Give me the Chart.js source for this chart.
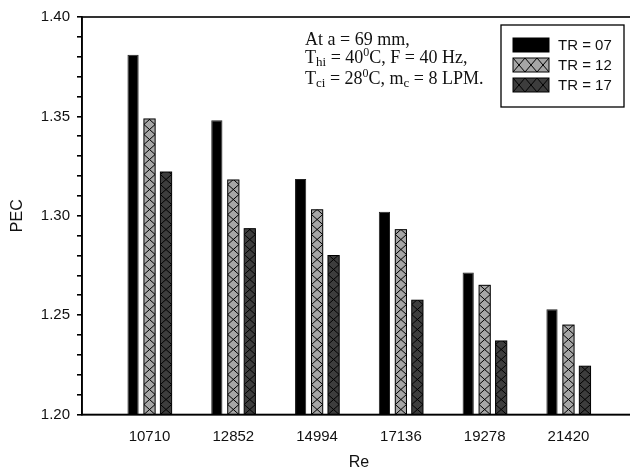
<!DOCTYPE html>
<html>
<head>
<meta charset="utf-8">
<script src="https://cdn.jsdelivr.net/npm/chart.js@4.4.1/dist/chart.umd.min.js"></script>
<style>
  html, body { margin: 0; padding: 0; background: #fff; overflow: hidden; }
  #wrap { position: relative; width: 640px; height: 476px; }
  #note {
    position: absolute; left: 305px; top: 30px;
    font-family: "Liberation Serif", "Times New Roman", serif;
    font-size: 18px; line-height: 18.3px; color: #111; white-space: nowrap;
  }
  #note sub { font-size: 13px; vertical-align: baseline; position: relative; top: 3px; }
  #note sup { font-size: 12px; vertical-align: baseline; position: relative; top: -7px; }
</style>
</head>
<body>
<div id="wrap">
  <canvas id="pec"></canvas>
  <div id="note">At a = 69 mm,<br>T<sub>hi</sub> = 40<sup>0</sup>C, F = 40 Hz,<br>T<sub>ci</sub> = 28<sup>0</sup>C, m<sub>c</sub> = 8 LPM.</div>
</div>
<script>
// data
const reLabels = ["10710", "12852", "14994", "17136", "19278", "21420"];
const tr07 = [1.381, 1.348, 1.3185, 1.302, 1.2715, 1.253];
const tr12 = [1.3487, 1.318, 1.303, 1.293, 1.265, 1.245];
const tr17 = [1.322, 1.2935, 1.280, 1.2575, 1.237, 1.2243];
const seriesNames = ["TR = 07", "TR = 12", "TR = 17"];

const toPoints = (arr) => arr.map((v, i) => ({ x: i, y: v }));

// X-shaped hatch inside a rectangle, cells built from the bottom up
function drawHatch(ctx, left, top, w, h, cell) {
  ctx.save();
  ctx.beginPath();
  ctx.rect(left, top, w, h);
  ctx.clip();
  ctx.strokeStyle = "#000";
  ctx.lineWidth = 1;
  ctx.beginPath();
  for (let yb = top + h; yb > top - cell; yb -= cell) {
    ctx.moveTo(left, yb);
    ctx.lineTo(left + w, yb - cell);
    ctx.moveTo(left, yb - cell);
    ctx.lineTo(left + w, yb);
  }
  ctx.stroke();
  ctx.restore();
}

//! hatch + frame + boxed legend
const extras = {
  id: "extras",
  afterDatasetsDraw(chart) {
    const ctx = chart.ctx;
    const a = chart.chartArea;
    chart.data.datasets.forEach((ds, di) => {
      if (!ds.hatch) return;
      chart.getDatasetMeta(di).data.forEach((bar) => {
        const p = bar.getProps(["x", "y", "base", "width"], true);
        const left = p.x - p.width / 2;
        const bottom = Math.min(p.base, a.bottom);
        drawHatch(ctx, left, p.y, p.width, bottom - p.y, 10);
        ctx.strokeStyle = "#000";
        ctx.lineWidth = 1;
        ctx.strokeRect(left, p.y, p.width, bottom - p.y);
      });
    });
  },
  afterDraw(chart) {
    const ctx = chart.ctx;
    const a = chart.chartArea;
    ctx.save();
    ctx.strokeStyle = "#000";
    ctx.lineWidth = 1.6;
    ctx.strokeRect(a.left, a.top, a.right - a.left, a.bottom - a.top);

    // legend box
    const bx = a.left + 419, by = a.top + 8, bw = 123, bh = 82;
    ctx.lineWidth = 1.3;
    ctx.strokeRect(bx, by, bw, bh);
    ctx.font = "15px 'Liberation Sans', Arial, sans-serif";
    ctx.textBaseline = "middle";
    chart.data.datasets.forEach((ds, i) => {
      const cy = by + 20 + i * 20;
      const sx = bx + 12, sw = 36, sh = 14;
      ctx.fillStyle = ds.backgroundColor;
      ctx.fillRect(sx, cy - sh / 2, sw, sh);
      if (ds.hatch) {
        for (let k = 0; k < 3; k++) drawHatch(ctx, sx + k * 12, cy - sh / 2, 12, sh, sh);
      }
      ctx.strokeStyle = "#000";
      ctx.lineWidth = 1;
      ctx.strokeRect(sx, cy - sh / 2, sw, sh);
      ctx.fillStyle = "#111";
      ctx.fillText(ds.label, sx + 45, cy + 1);
    });
    ctx.restore();
  }
};

Chart.defaults.font.family = "'Liberation Sans', Arial, sans-serif";
Chart.defaults.font.size = 15;
Chart.defaults.color = "#111";

new Chart(document.getElementById("pec").getContext("2d"), {
  type: "bar",
  data: {
    datasets: [
      { label: seriesNames[0], data: toPoints(tr07), backgroundColor: "#000", borderColor: "#222", borderWidth: 1 },
      { label: seriesNames[1], data: toPoints(tr12), backgroundColor: "#a6a6a6", borderWidth: 0, hatch: true },
      { label: seriesNames[2], data: toPoints(tr17), backgroundColor: "#3d3d3d", borderWidth: 0, hatch: true }
    ]
  },
  options: {
    responsive: true,
    maintainAspectRatio: false,
    animation: false,
    layout: { padding: { top: 17, right: 4, left: 0, bottom: 0 } },
    categoryPercentage: 0.59,
    barPercentage: 0.68,
    plugins: { legend: { display: false }, tooltip: { enabled: false } },
    scales: {
      x: {
        type: "linear",
        offset: false,
        min: -0.806,
        max: 5.806,
        afterFit: (s) => { s.height = 61.5; },
        afterBuildTicks: (s) => { s.ticks = reLabels.map((_, i) => ({ value: i })); },
        grid: { display: false, offset: false },
        border: { display: true, color: "#000", width: 1.6 },
        ticks: {
          padding: 5,
          autoSkip: false,
          maxRotation: 0,
          callback: (v) => reLabels[Math.round(v)]
        },
        title: { display: true, text: "Re", font: { size: 16 }, padding: { top: 0, bottom: 4 } }
      },
      y: {
        min: 1.2,
        max: 1.4,
        afterFit: (s) => { s.width = 82; },
        grid: { drawOnChartArea: false, drawTicks: true, tickLength: 5, color: "#000", lineWidth: 1.6 },
        border: { display: true, color: "#000", width: 1.6 },
        ticks: {
          stepSize: 0.01,
          padding: 7,
          autoSkip: false,
          callback: (v) => (Math.round(v * 100) % 5 === 0 ? v.toFixed(2) : "")
        },
        title: { display: true, text: "PEC", font: { size: 16 }, padding: { top: 8, bottom: 0 } }
      }
    }
  },
  plugins: [extras]
});
</script>
</body>
</html>
